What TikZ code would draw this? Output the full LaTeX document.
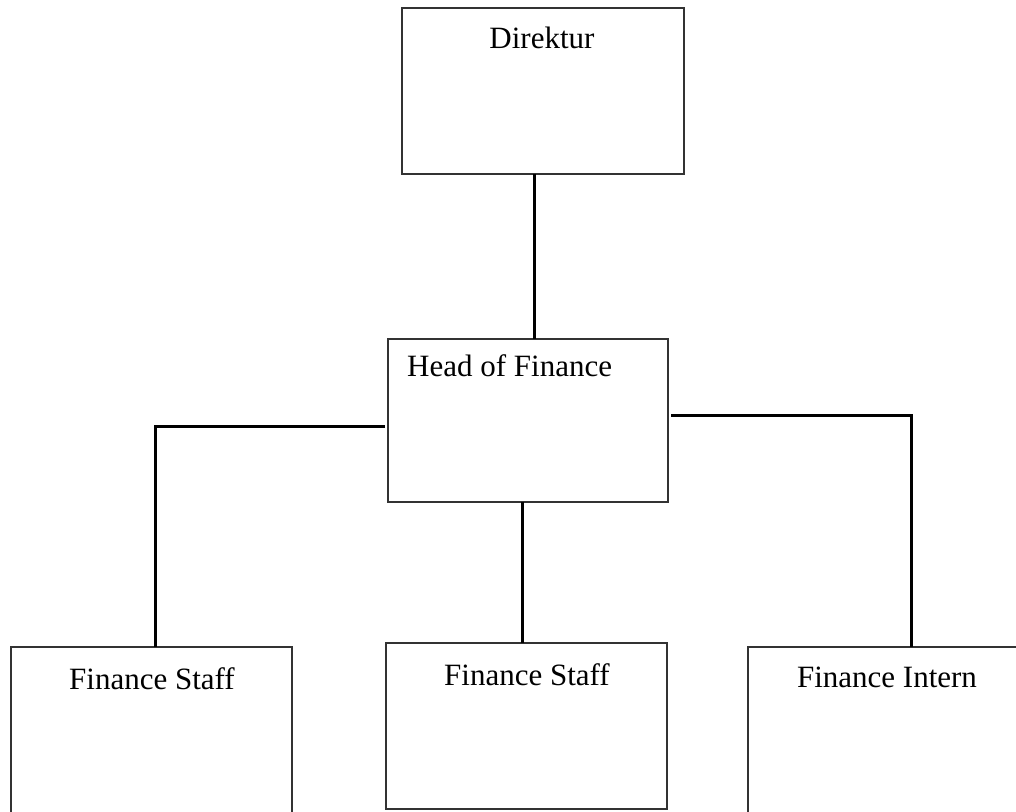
\documentclass[tikz,border=0pt]{standalone}
\usepackage{fontspec}
\setmainfont{Liberation Serif}
\begin{document}
\begin{tikzpicture}[x=1pt,y=-1pt,
  box/.style={draw=black!80,line width=1.4pt,fill=white,minimum width=281pt,inner sep=0pt,outer sep=0pt},
  lbl/.style={font=\fontsize{31}{36}\selectfont,anchor=base,inner sep=0pt},
  conn/.style={draw=black,line width=3pt}]
\useasboundingbox (0,0) rectangle (1016,811);
\clip (0,0) rectangle (1016,811);
\fill[white] (0,0) rectangle (1016,811);
% boxes
\node[box,minimum width=282pt,minimum height=166pt] (dir) at (543,91) {};
\node[box,minimum width=280pt,minimum height=163pt] (head) at (528,420.5) {};
\node[box,minimum height=180pt] (fs1) at (151.5,737) {};
\node[box,minimum height=166pt] (fs2) at (526.5,726) {};
\node[box,minimum height=180pt] (fi) at (888.5,737) {};
% labels
\node[lbl] (tdir) at (542,48) {Direktur};
\node[lbl,anchor=base west] (thead) at (407,376) {Head of Finance};
\node[lbl] (tfs1) at (152,689) {Finance Staff};
\node[lbl] (tfs2) at (527,685) {Finance Staff};
\node[lbl] (tfi) at (887,687) {Finance Intern};
% connectors
\draw[conn] ([xshift=-9pt]dir.south) -- ([xshift=-9pt]dir.south |- head.north);
\draw[conn] ([xshift=-3pt,yshift=-5.5pt]head.west) -- ([xshift=3.5pt,yshift=-5.5pt]fs1.north |- head.west) -- ([xshift=3.5pt]fs1.north);
\draw[conn] ([xshift=3pt,yshift=5.5pt]head.east) -- ([xshift=22.5pt,yshift=5.5pt]fi.north |- head.east) -- ([xshift=22.5pt]fi.north);
\draw[conn] ([xshift=-6pt]head.south) -- ([xshift=-6pt]head.south |- fs2.north);
\end{tikzpicture}
\end{document}
